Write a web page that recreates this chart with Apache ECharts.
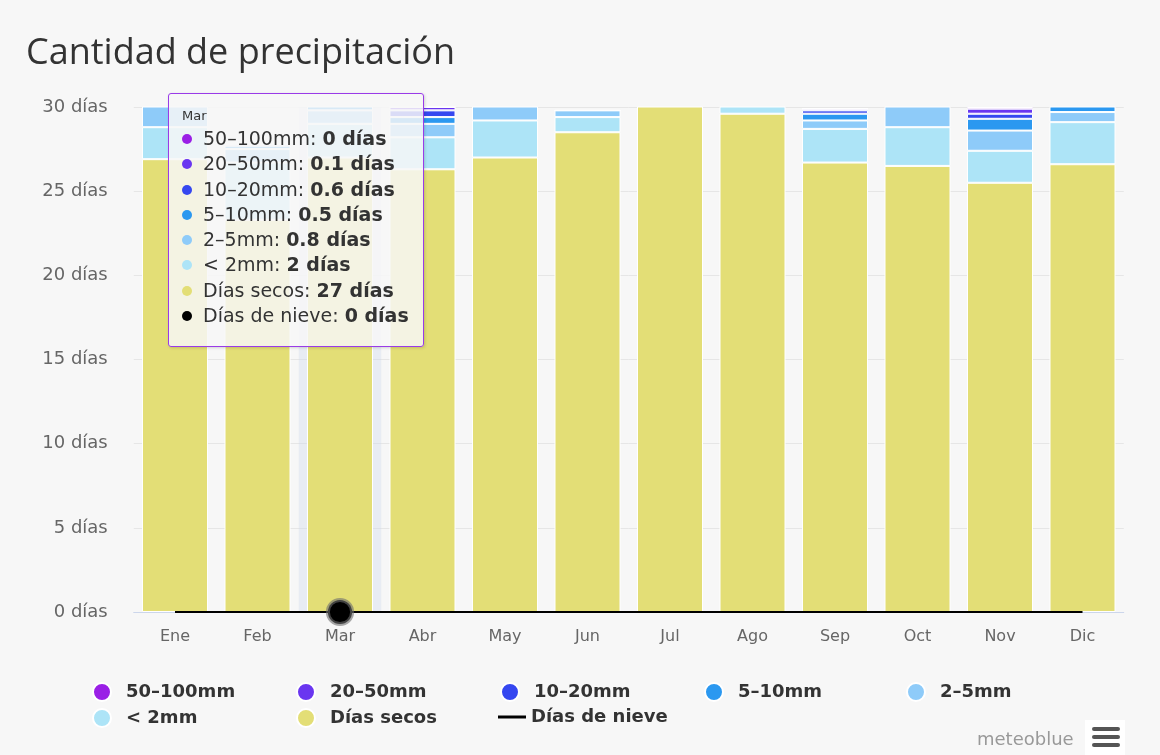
<!DOCTYPE html>
<html>
<head>
<meta charset="utf-8">
<script src="https://cdn.jsdelivr.net/npm/echarts@6/dist/echarts.min.js"></script>
<style>
html,body{margin:0;padding:0;background:#f7f7f7;}
#c{width:1160px;height:755px;}
</style>
</head>
<body>
<div id="c"></div>
<script>
const months = ['Ene','Feb','Mar','Abr','May','Jun','Jul','Ago','Sep','Oct','Nov','Dic'];
const yTicks = [0, 5, 10, 15, 20, 25, 30];
const drySecos = [26.9, 23.3, 27, 26.3, 27.0, 28.5, 30.8, 29.6, 26.7, 26.5, 25.5, 26.6];
const lt2mm    = [1.9, 3.4, 2, 1.9, 2.2, 0.9, 0.2, 1.2, 2.0, 2.3, 1.9, 2.5];
const mm2_5    = [1.5, 0.8, 0.8, 0.8, 1.2, 0.4, 0, 0.2, 0.5, 1.4, 1.2, 0.6];
const mm5_10   = [0.5, 0.2, 0.5, 0.4, 0.4, 0, 0, 0, 0.4, 0.5, 0.7, 0.5];
const mm10_20  = [0.2, 0.1, 0.6, 0.4, 0.2, 0, 0, 0, 0.2, 0.2, 0.3, 0.4];
const mm20_50  = [0, 0.1, 0.1, 0.2, 0, 0, 0, 0, 0.1, 0.1, 0.3, 0.3];
const mm50_100 = [0, 0, 0, 0, 0, 0, 0, 0, 0, 0, 0.1, 0.1];
const snowDays = [0, 0, 0, 0, 0, 0, 0, 0, 0, 0, 0, 0];

const C = {
  '50–100mm': '#9a1fe6',
  '20–50mm': '#6a36f0',
  '10–20mm': '#3547f0',
  '5–10mm': '#2b98f0',
  '2–5mm': '#8ecbf9',
  '< 2mm': '#ade4f7',
  'Días secos': '#e3de76',
  'Días de nieve': '#000000'
};

const stackDefs = [
  ['Días secos', drySecos],
  ['< 2mm', lt2mm],
  ['2–5mm', mm2_5],
  ['5–10mm', mm5_10],
  ['10–20mm', mm10_20],
  ['20–50mm', mm20_50],
  ['50–100mm', mm50_100]
];

const FONT = 'DejaVu Sans';

const series = stackDefs.map(([name, arr]) => ({
  name: name,
  type: 'bar',
  stack: 'p',
  data: arr,
  barWidth: 66,
  clip: true,
  z: 3,
  itemStyle: { color: C[name], borderColor: '#ffffff', borderWidth: 1 },
  emphasis: { disabled: true }
}));

series.push({
  name: 'Días de nieve',
  type: 'line',
  data: snowDays.map((v, i) => i === 2 ? {
    value: v, symbol: 'circle', symbolSize: 22,
    itemStyle: { color: '#000', borderColor: 'rgba(110,110,110,0.6)', borderWidth: 4 }
  } : { value: v, symbol: 'none' }),
  lineStyle: { color: '#000', width: 2 },
  itemStyle: { color: '#000' },
  z: 5,
  emphasis: { disabled: true }
});

const tipOrder = ['50–100mm', '20–50mm', '10–20mm', '5–10mm', '2–5mm', '< 2mm', 'Días secos', 'Días de nieve'];

function legendAt(name, left, top, icon, w, h) {
  return {
    data: [{ name: name, icon: icon }],
    left: left, top: top,
    itemWidth: w, itemHeight: h,
    selectedMode: false,
    padding: 0,
    textStyle: { fontSize: 18, color: '#333', fontWeight: 'bold', fontFamily: FONT }
  };
}

const option = {
  backgroundColor: '#f7f7f7',
  animation: false,
  title: {
    text: 'Cantidad de precipitación',
    left: 21, top: 31,
    textStyle: { fontSize: 36, fontWeight: 'normal', color: '#333', fontFamily: 'Open Sans' }
  },
  grid: { left: 133.75, right: 36.25, top: 107, bottom: 143 },
  legend: [
    legendAt('50–100mm', 92, 682, 'circle', 38, 18),
    legendAt('20–50mm', 296, 682, 'circle', 38, 18),
    legendAt('10–20mm', 500, 682, 'circle', 38, 18),
    legendAt('5–10mm', 704, 682, 'circle', 38, 18),
    legendAt('2–5mm', 906, 682, 'circle', 38, 18),
    legendAt('< 2mm', 92, 708, 'circle', 38, 18),
    legendAt('Días secos', 296, 708, 'circle', 38, 18),
    legendAt('Días de nieve', 498, 708, 'rect', 28, 3)
  ],
  tooltip: {
    trigger: 'axis',
    triggerOn: 'none',
    alwaysShowContent: true,
    position: [168, 93],
    backgroundColor: 'rgba(247,247,247,0.85)',
    borderColor: '#9a3be8',
    borderWidth: 1.5,
    padding: [12, 14, 18, 13],
    extraCssText: 'border-radius:3px;box-shadow:1px 1px 3px rgba(0,0,0,0.15);',
    axisPointer: { type: 'shadow', z: 1, shadowStyle: { color: 'rgba(204,214,235,0.35)' } },
    formatter: function (params) {
      const byName = {};
      params.forEach(p => { byName[p.seriesName] = p; });
      let html = '<div style="font-family:DejaVu Sans;font-size:13px;color:#333;line-height:20px">' + params[0].axisValue + '</div>';
      tipOrder.forEach(n => {
        const p = byName[n];
        if (!p) return;
        const v = typeof p.value === 'object' ? p.value.value : p.value;
        html += '<div style="font-family:DejaVu Sans;font-size:19px;color:#333;line-height:25.3px;white-space:nowrap">' +
          '<span style="display:inline-block;width:10px;height:10px;border-radius:5px;background:' + C[n] + ';margin-right:11px;vertical-align:1px"></span>' +
          n + ': <b>' + v + ' días</b></div>';
      });
      return html;
    }
  },
  xAxis: {
    type: 'category',
    data: months,
    axisLine: { lineStyle: { color: '#ccd6eb', width: 1 } },
    axisTick: { show: false },
    axisLabel: { color: '#666', fontSize: 16, margin: 17, fontFamily: FONT }
  },
  yAxis: {
    type: 'value',
    min: yTicks[0], max: yTicks[yTicks.length - 1], interval: 5,
    axisLine: { show: false },
    axisTick: { show: false },
    splitLine: { lineStyle: { color: '#e6e6e6', width: 1 } },
    axisLabel: { formatter: '{value} días', color: '#666', fontSize: 18, margin: 26, fontFamily: FONT }
  },
  graphic: [
    { type: 'text', left: 977, top: 731, style: { text: 'meteoblue', fontSize: 18, fill: '#999', fontFamily: FONT } },
    { type: 'rect', shape: { x: 1085, y: 720, width: 40, height: 35 }, style: { fill: '#ffffff' } },
    { type: 'rect', shape: { x: 1092, y: 727, width: 28, height: 4, r: 2 }, style: { fill: '#555' } },
    { type: 'rect', shape: { x: 1092, y: 735, width: 28, height: 4, r: 2 }, style: { fill: '#555' } },
    { type: 'rect', shape: { x: 1092, y: 743, width: 28, height: 4, r: 2 }, style: { fill: '#555' } }
  ],
  series: series
};

const chart = echarts.init(document.getElementById('c'), null, { renderer: 'canvas' });
chart.setOption(option);
chart.dispatchAction({ type: 'showTip', seriesIndex: 0, dataIndex: 2 });
</script>
</body>
</html>
